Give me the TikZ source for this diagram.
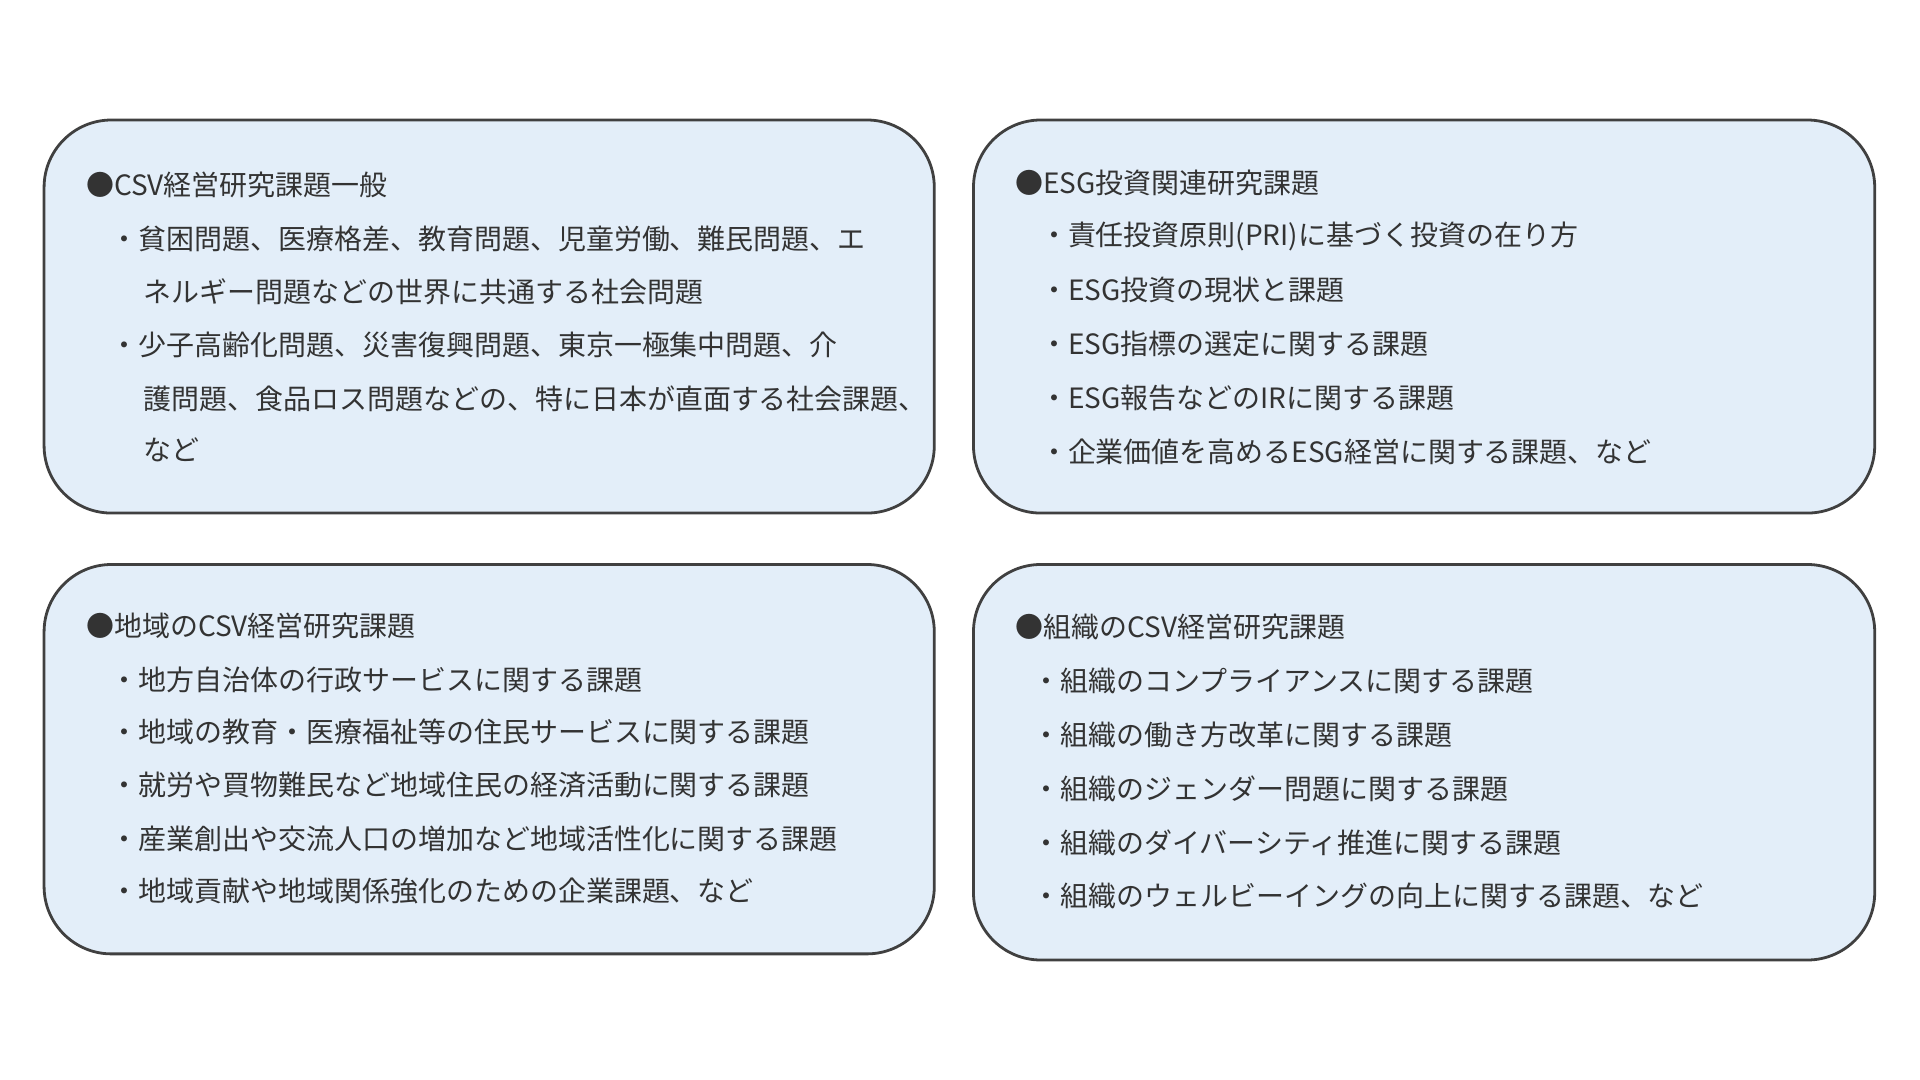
\documentclass[tikz,border=0pt]{standalone}
\usepackage{fontspec}
\setmainfont{Noto Sans CJK JP}
\definecolor{boxfill}{RGB}{227,238,249}
\begin{document}
\begin{tikzpicture}[x=0.02cm,y=-0.02cm,
  box/.style={draw=black!75, line width=1.3pt, fill=boxfill, rounded corners=1.1cm},
  t/.style={anchor=west, inner sep=0pt, text=black!80, font=\fontsize{13pt}{15pt}\selectfont}]
\useasboundingbox (0,0) rectangle (1568,882);
\fill[white] (0,0) rectangle (1568,882);
\draw[box] (36,98) rectangle (763,419);
\draw[box] (795,98) rectangle (1531,419);
\draw[box] (36,461) rectangle (763,779);
\draw[box] (795,461) rectangle (1531,784);
% TL
\node[t] (a0) at (70,151) {●CSV経営研究課題一般};
\node[t] (a1) at (90,195) {・貧困問題、医療格差、教育問題、児童労働、難民問題、エ};
\node[t] (a2) at (117,238) {ネルギー問題などの世界に共通する社会問題};
\node[t] (a3) at (90,282) {・少子高齢化問題、災害復興問題、東京一極集中問題、介};
\node[t] (a4) at (117,326) {護問題、食品ロス問題などの、特に日本が直面する社会課題、};
\node[t] (a5) at (117,367) {など};
% TR
\node[t] (b0) at (829,149) {●ESG投資関連研究課題};
\node[t] (b1) at (849,193) {・責任投資原則(PRI)に基づく投資の在り方};
\node[t] (b2) at (849,237) {・ESG投資の現状と課題};
\node[t] (b3) at (849,281) {・ESG指標の選定に関する課題};
\node[t] (b4) at (849,325) {・ESG報告などのIRに関する課題};
\node[t] (b5) at (849,369) {・企業価値を高めるESG経営に関する課題、など};
% BL
\node[t] (c0) at (70,511) {●地域のCSV経営研究課題};
\node[t] (c1) at (90,555) {・地方自治体の行政サービスに関する課題};
\node[t] (c2) at (90,598) {・地域の教育・医療福祉等の住民サービスに関する課題};
\node[t] (c3) at (90,641) {・就労や買物難民など地域住民の経済活動に関する課題};
\node[t] (c4) at (90,685) {・産業創出や交流人口の増加など地域活性化に関する課題};
\node[t] (c5) at (90,728) {・地域貢献や地域関係強化のための企業課題、など};
% BR
\node[t] (d0) at (829,512) {●組織のCSV経営研究課題};
\node[t] (d1) at (843,556) {・組織のコンプライアンスに関する課題};
\node[t] (d2) at (843,600) {・組織の働き方改革に関する課題};
\node[t] (d3) at (843,644) {・組織のジェンダー問題に関する課題};
\node[t] (d4) at (843,688) {・組織のダイバーシティ推進に関する課題};
\node[t] (d5) at (843,732) {・組織のウェルビーイングの向上に関する課題、など};
\end{tikzpicture}
\end{document}
